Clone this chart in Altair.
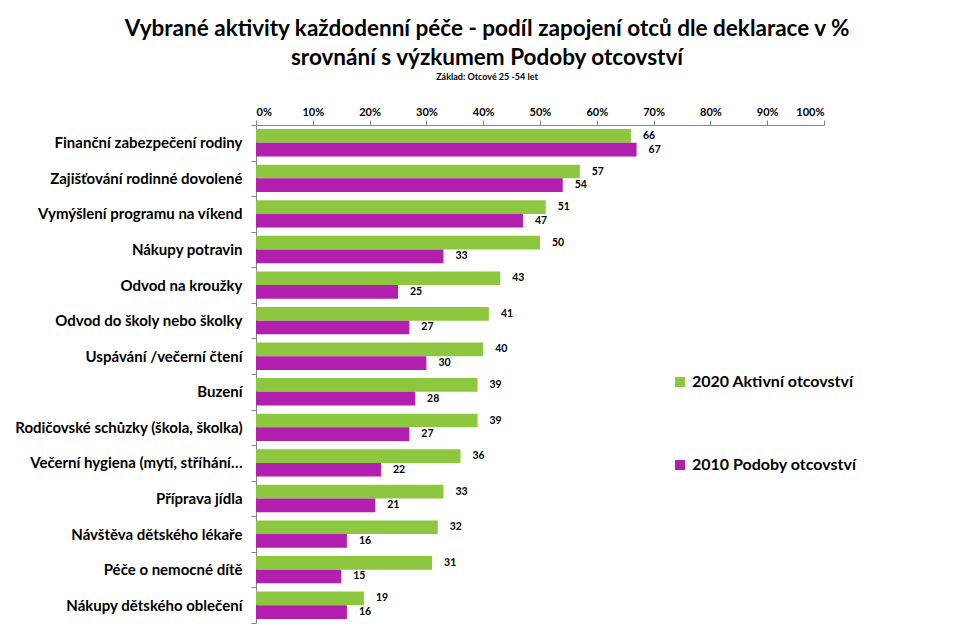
import altair as alt
import pandas as pd

categories = [
    "Finanční zabezpečení rodiny",
    "Zajišťování rodinné dovolené",
    "Vymýšlení programu na víkend",
    "Nákupy potravin",
    "Odvod na kroužky",
    "Odvod do školy nebo školky",
    "Uspávání /večerní čtení",
    "Buzení",
    "Rodičovské schůzky (škola, školka)",
    "Večerní hygiena (mytí, stříhání…",
    "Příprava jídla",
    "Návštěva dětského lékaře",
    "Péče o nemocné dítě",
    "Nákupy dětského oblečení",
]
series = ["2020 Aktivní otcovství", "2010 Podoby otcovství"]
v2020 = [66, 57, 51, 50, 43, 41, 40, 39, 39, 36, 33, 32, 31, 19]
v2010 = [67, 54, 47, 33, 25, 27, 30, 28, 27, 22, 21, 16, 15, 16]
colors = ["#8dc63f", "#b21fae"]
ticks = [0, 10, 20, 30, 40, 50, 60, 70, 80, 90, 100]

rows = []
for c, a, b in zip(categories, v2020, v2010):
    rows.append({"category": c, "series": series[0], "value": a})
    rows.append({"category": c, "series": series[1], "value": b})
df = pd.DataFrame(rows)

FONT = "Lato"
GRAY = "#868686"

base = alt.Chart(df).encode(
    y=alt.Y(
        "category:N",
        sort=categories,
        scale=alt.Scale(paddingInner=0, paddingOuter=0),
        axis=alt.Axis(
            title=None,
            tickBand="extent",
            tickSize=5,
            labelPadding=9,
            labelFontSize=15,
            labelFontWeight="bold",
            labelFont=FONT,
            labelColor="black",
            labelLimit=400,
            domainColor=GRAY,
            tickColor=GRAY,
        ),
    ),
    yOffset=alt.YOffset(
        "series:N",
        sort=series,
        scale=alt.Scale(paddingInner=0, paddingOuter=0.3),
    ),
)

bars = base.mark_bar().encode(
    x=alt.X(
        "value:Q",
        scale=alt.Scale(domain=[0, 100]),
        axis=alt.Axis(
            orient="top",
            title=None,
            values=ticks,
            labelExpr="datum.value + '%'",
            grid=False,
            tickSize=5,
            labelPadding=3,
            labelFontSize=11,
            labelFontWeight="bold",
            labelFont=FONT,
            labelColor="black",
            domainColor=GRAY,
            tickColor=GRAY,
        ),
    ),
    color=alt.Color(
        "series:N",
        scale=alt.Scale(domain=series, range=colors),
        legend=alt.Legend(
            title=None,
            orient="none",
            legendX=416,
            legendY=249,
            symbolType="square",
            symbolSize=100,
            symbolStrokeWidth=0,
            labelFontSize=16,
            labelFontWeight="bold",
            labelFont=FONT,
            labelColor="black",
            labelOffset=4,
            labelLimit=300,
            rowPadding=67,
        ),
    ),
)

text = base.mark_text(
    align="left", baseline="middle", dx=12, fontSize=10.5, fontWeight="bold", font=FONT, color="black"
).encode(x="value:Q", text="value:Q")

chart = (
    alt.layer(bars, text)
    .properties(
        width=568,
        height=498,
        autosize="none",
        padding={"left": 248, "top": 117, "right": 144, "bottom": 6},
        title=alt.TitleParams(
            text=[
                "Vybrané aktivity každodenní péče  - podíl zapojení otců dle deklarace v %",
                "srovnání s výzkumem Podoby otcovství",
            ],
            subtitle="Základ: Otcové 25 -54 let",
            anchor="middle",
            dx=-53,
            font=FONT,
            fontSize=22.5,
            fontWeight="bold",
            lineHeight=29,
            color="black",
            subtitleFont=FONT,
            subtitleFontSize=9,
            subtitleFontWeight="bold",
            subtitleColor="black",
            subtitlePadding=4,
            offset=24,
        ),
    )
    .configure_view(stroke=None)
)

chart.save("out.html", embed_options={"renderer": "svg", "actions": False})
